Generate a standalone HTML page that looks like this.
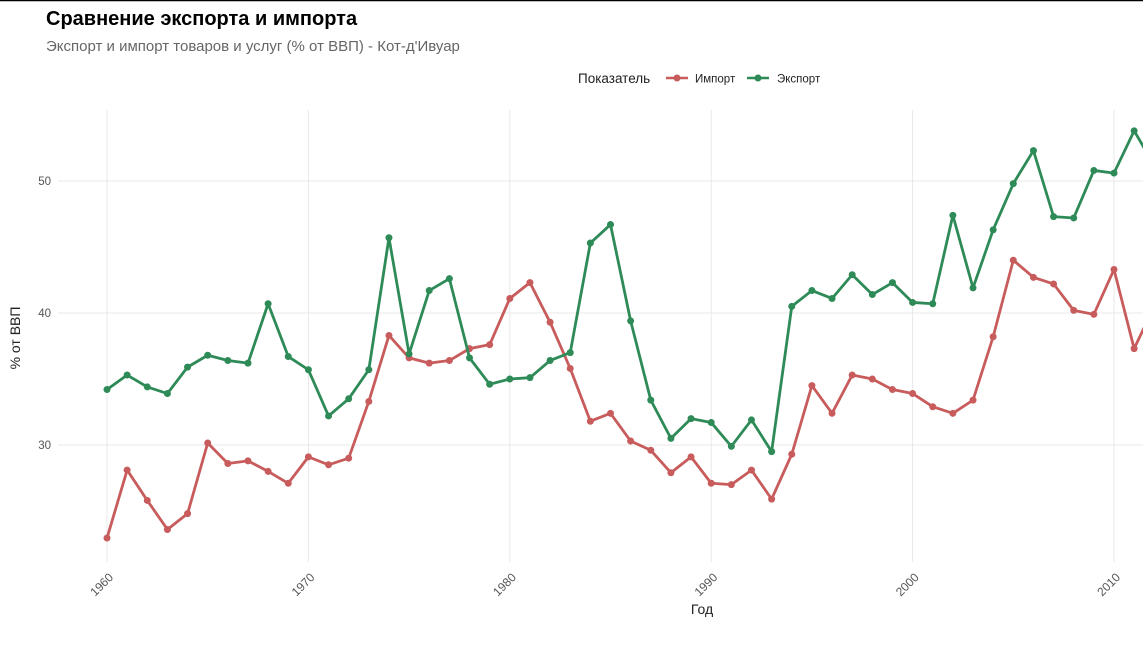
<!DOCTYPE html>
<html><head><meta charset="utf-8"><style>
body{margin:0;background:#fff;font-family:"Liberation Sans",sans-serif;}
svg text{font-family:"Liberation Sans",sans-serif;}
</style></head><body>
<svg width="1143" height="642">
<line x1="0" y1="0.5" x2="1143" y2="0.5" stroke="#000" stroke-width="1.5"/>
<text x="46" y="25" font-size="20" font-weight="bold" fill="#000">Сравнение экспорта и импорта</text>
<text x="46" y="51" font-size="15" fill="#666">Экспорт и импорт товаров и услуг (% от ВВП) - Кот-д'Ивуар</text>
<g>
<text x="578" y="83" font-size="13.5" fill="#222">Показатель</text>
<g><line x1="666" y1="78" x2="688" y2="78" stroke="#c85c5c" stroke-width="2.5"/><circle cx="677" cy="78" r="3.5" fill="#c85c5c"/><text x="695" y="82.5" font-size="11.5" fill="#222">Импорт</text></g>
<g><line x1="747" y1="78" x2="769" y2="78" stroke="#2e8b57" stroke-width="2.5"/><circle cx="758" cy="78" r="3.5" fill="#2e8b57"/><text x="777" y="82.5" font-size="11.5" fill="#222">Экспорт</text></g>
</g>
<g id="grid"></g>
<g id="marks"></g>
<g id="axes"></g>
<text x="702" y="614" font-size="14" fill="#222" text-anchor="middle">Год</text>
<text transform="translate(20,338) rotate(-90)" font-size="14" fill="#222" text-anchor="middle">% от ВВП</text>
</svg>
<script>
const years=[];for(let y=1960;y<=2012;y++)years.push(y);
const importVals=[22.95,28.1,25.8,23.6,24.8,30.15,28.6,28.8,28.0,27.1,29.1,28.5,29.0,33.3,38.3,36.6,36.2,36.4,37.3,37.6,41.1,42.3,39.3,35.8,31.8,32.4,30.3,29.6,27.9,29.1,27.1,27.0,28.1,25.9,29.3,34.5,32.4,35.3,35.0,34.2,33.9,32.9,32.4,33.4,38.2,44.0,42.7,42.2,40.2,39.9,43.3,37.3,40.5];
const exportVals=[34.2,35.3,34.4,33.9,35.9,36.8,36.4,36.2,40.7,36.7,35.7,32.2,33.5,35.7,45.7,36.9,41.7,42.6,36.6,34.6,35.0,35.1,36.4,37.0,45.3,46.7,39.4,33.4,30.5,32.0,31.7,29.9,31.9,29.5,40.5,41.7,41.1,42.9,41.4,42.3,40.8,40.7,47.4,41.9,46.3,49.8,52.3,47.3,47.2,50.8,50.6,53.8,51.2];
const xTicks=[1960,1970,1980,1990,2000,2010];
const yTicks=[30,40,50];
const xs=y=>107+(y-1960)*20.14;
const ys=v=>445-(v-30)*13.2;
const NS="http://www.w3.org/2000/svg";
const grid=document.getElementById('grid'),marks=document.getElementById('marks'),axes=document.getElementById('axes');
function mk(t,a,p){const e=document.createElementNS(NS,t);for(const k in a)e.setAttribute(k,a[k]);p.appendChild(e);return e;}
const L=58,T=110,B=562;
xTicks.forEach(y=>{const g=mk('line',{x1:xs(y),x2:xs(y),y1:T,y2:B,stroke:'#e8e8e8','stroke-width':1},grid);


const t=mk('text',{transform:`translate(${xs(y)+7},${B+16}) rotate(-45)`,'font-size':12,fill:'#555','text-anchor':'end'},axes);t.textContent=y;

});
yTicks.forEach(v=>{const g=mk('line',{x1:L,x2:1143,y1:ys(v),y2:ys(v),stroke:'#e8e8e8','stroke-width':1},grid);


const t=mk('text',{x:51,y:ys(v)+4,'font-size':11.5,fill:'#555','text-anchor':'end'},axes);t.textContent=v;

});
function series(vals,col,name){const pts=vals.map((v,i)=>xs(years[i])+','+ys(v)).join(' ');
const pl=mk('polyline',{points:pts,fill:'none',stroke:col,'stroke-width':2.8,'stroke-linejoin':'round'},marks);


vals.forEach((v,i)=>{const c=mk('circle',{cx:xs(years[i]),cy:ys(v),r:3.5,fill:col},marks);

});}
series(importVals,'#c85c5c','import');
series(exportVals,'#2e8b57','export');
</script>
</body></html>
